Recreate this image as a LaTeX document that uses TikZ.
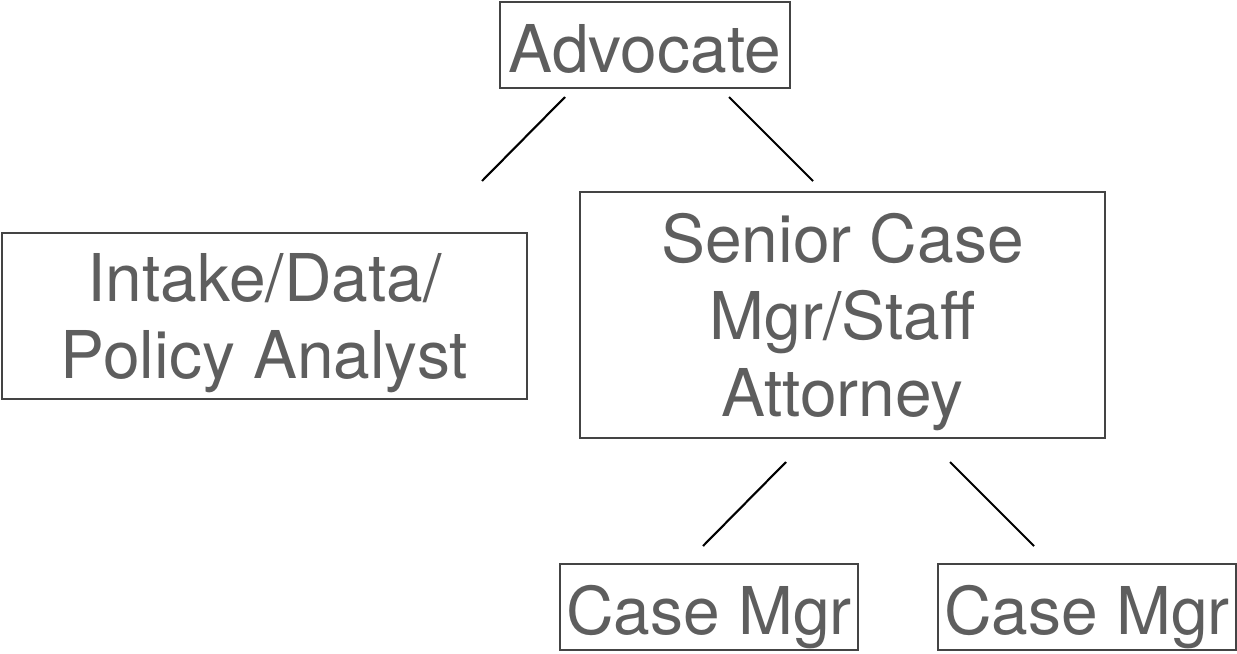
\documentclass[tikz,border=0pt]{standalone}
\usepackage{fontspec}
\setmainfont{TeX Gyre Heros}
\usetikzlibrary{positioning}
\definecolor{txtgray}{HTML}{5E5E5E}
\definecolor{boxgray}{HTML}{444444}
\tikzset{
  rolebox/.style={draw=boxgray, line width=0.9pt, inner sep=0pt, align=center,
    text=txtgray, text depth=0pt, font=\fontsize{37.5}{44}\selectfont},
  onerow/.style={rolebox, text height=31.5pt},
  link/.style={draw=black, line width=1.2pt}
}
\begin{document}
\begin{tikzpicture}[x=0.02cm, y=-0.02cm]
    \useasboundingbox (0,0) rectangle (1237,653);
    \node[onerow, minimum width=290*0.02cm, minimum height=86*0.02cm] (advocate) at (645,45) {Advocate};
    \node[rolebox, minimum width=525*0.02cm, minimum height=166*0.02cm] (intake) at (264.5,316) {Intake/Data/\\Policy Analyst};
    \node[rolebox, minimum width=525*0.02cm, minimum height=246*0.02cm] (senior) at (842.5,315) {Senior Case\\Mgr/Staff\\Attorney};
    \node[onerow, minimum width=298*0.02cm, minimum height=86*0.02cm] (cmleft) at (709,607) {Case Mgr};
    \node[onerow, minimum width=298*0.02cm, minimum height=86*0.02cm] (cmright) at (1087,607) {Case Mgr};
    % connector ends
    \coordinate (advL) at (565,97);
    \coordinate (intakeT) at (482,181);
    \coordinate (advR) at (729,97);
    \coordinate (seniorT) at (813,181);
    \coordinate (seniorL) at (786,462);
    \coordinate (cmleftT) at (703,546);
    \coordinate (seniorR) at (950,462);
    \coordinate (cmrightT) at (1034,546);
    \draw[link] (advL) -- (intakeT);
    \draw[link] (advR) -- (seniorT);
    \draw[link] (seniorL) -- (cmleftT);
    \draw[link] (seniorR) -- (cmrightT);
\end{tikzpicture}
\end{document}
